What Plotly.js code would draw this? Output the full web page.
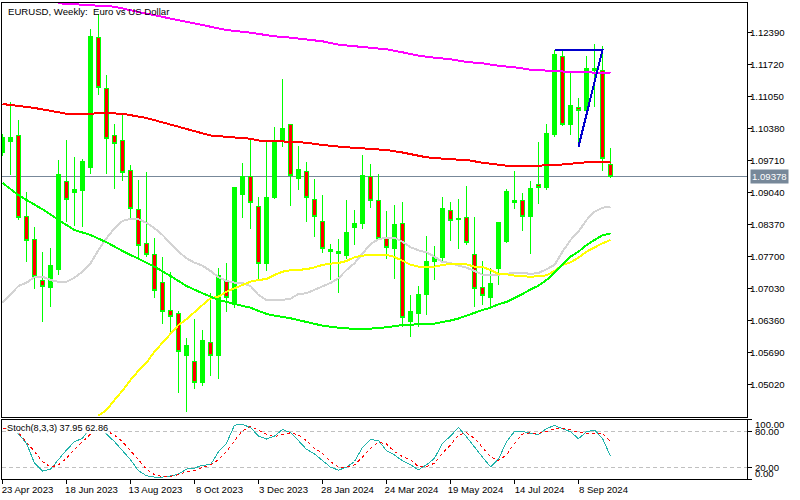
<!DOCTYPE html>
<html>
<head>
<meta charset="utf-8">
<script src="https://cdn.plot.ly/plotly-3.0.1.min.js"></script>
<style>
html,body{margin:0;padding:0;background:#fff}#c{width:800px;height:500px}
#c .scatterlayer path.js-line, #c .boxlayer path, #c .shapelayer path {shape-rendering:crispEdges !important}
</style>
</head>
<body>
<div id="c"></div>
<script>
const open_ = [1.09872,1.10102,1.10248,1.08532,1.08050,1.07192,1.07045,1.07422,1.09285,1.09034,1.09076,1.09578,1.12300,1.11232,1.10248,1.10123,1.09495,1.08678,1.07966,1.07736,1.07150,1.06584,1.06501,1.05621,1.05496,1.05056,1.05914,1.05621,1.07212,1.06731,1.08992,1.09369,1.08741,1.07568,1.08950,1.10123,1.10458,1.09327,1.09474,1.08908,1.08427,1.07799,1.07757,1.07715,1.08301,1.08385,1.09369,1.08887,1.08071,1.07862,1.08385,1.06333,1.06501,1.06919,1.07610,1.07673,1.08657,1.08469,1.08511,1.07736,1.07045,1.06836,1.07443,1.08008,1.08825,1.08887,1.08552,1.09222,1.09139,1.10269,1.11902,1.10458,1.10814,1.10751,1.11609,1.11609,1.09641];
const high = [1.10269,1.10939,1.10562,1.09055,1.08322,1.07799,1.07882,1.09725,1.10144,1.09788,1.09746,1.12468,1.12782,1.11505,1.10479,1.10667,1.09620,1.09306,1.09474,1.08092,1.07694,1.07380,1.06563,1.05998,1.06396,1.06166,1.06940,1.07464,1.07568,1.09160,1.09662,1.10144,1.08950,1.10102,1.10416,1.11421,1.10458,1.10018,1.09683,1.09327,1.08992,1.07966,1.08071,1.08887,1.08678,1.09830,1.09641,1.09432,1.08657,1.08783,1.08846,1.06898,1.07087,1.08134,1.07924,1.08950,1.08846,1.08908,1.09181,1.08532,1.07610,1.07464,1.08427,1.09118,1.09495,1.09034,1.09285,1.10102,1.10479,1.12028,1.12007,1.11567,1.11023,1.11902,1.12154,1.12112,1.09976];
const low = [1.09809,1.09411,1.08469,1.07589,1.07024,1.06333,1.06647,1.07317,1.08427,1.08343,1.08322,1.09432,1.11086,1.09432,1.09118,1.09285,1.08490,1.07652,1.07694,1.06836,1.06291,1.06124,1.04847,1.04449,1.04930,1.04993,1.05202,1.05140,1.06542,1.06626,1.08511,1.08280,1.07233,1.07401,1.08908,1.09997,1.08762,1.09097,1.08427,1.08113,1.07778,1.07212,1.06940,1.07652,1.07945,1.08280,1.08720,1.08050,1.07652,1.07233,1.06228,1.06019,1.06228,1.06480,1.07212,1.07568,1.08029,1.07862,1.07945,1.06647,1.06689,1.06647,1.07108,1.07987,1.08699,1.08238,1.07757,1.08804,1.09097,1.10207,1.10437,1.10248,1.10039,1.10730,1.10835,1.09495,1.09348];
const close_ = [1.10186,1.10186,1.08511,1.08029,1.07275,1.07066,1.07506,1.09411,1.08908,1.09097,1.09683,1.12321,1.11253,1.10165,1.10060,1.09453,1.08699,1.07945,1.07736,1.06982,1.06563,1.06438,1.05705,1.05851,1.05056,1.05935,1.05621,1.07296,1.06836,1.09139,1.09369,1.08825,1.07568,1.08950,1.10102,1.10374,1.09390,1.09516,1.08950,1.08532,1.07862,1.07841,1.07799,1.08197,1.08385,1.09390,1.08867,1.08071,1.07903,1.08364,1.06417,1.06563,1.06919,1.07610,1.07673,1.08699,1.08448,1.08490,1.07987,1.07024,1.06898,1.07129,1.08406,1.09055,1.08867,1.08552,1.09118,1.09139,1.10290,1.11944,1.10458,1.10856,1.10751,1.11651,1.11651,1.09746,1.09378];

const redBars = [0,4,8,11,12,15,18,22,26,29,31,32,34,38,40,43,46,48,50,53,56,58,60,63,67,70,73,76];
const redMA = [1.10897,1.10814,1.10694,1.10688,1.10709,1.10694,1.10604,1.10426,1.10238,1.10196,1.10171,1.10133,1.10123,1.10087,1.10039,1.09991,1.09966,1.09934,1.09882,1.09781,1.09740,1.09725,1.09668,1.09606,1.09606,1.09631,1.09677,1.09689];

const magentaBars = [7,10,14,17,19,21,23,25,28,31,33,34,36,38,40,42,44,46,48,50,52,54,56,58,60,62,64,66,68,71,76];
const magentaMA = [1.13006,1.12977,1.12935,1.12824,1.12755,1.12702,1.12629,1.12552,1.12447,1.12390,1.12342,1.12315,1.12286,1.12244,1.12210,1.12139,1.12106,1.12085,1.12043,1.11980,1.11909,1.11867,1.11833,1.11777,1.11750,1.11697,1.11666,1.11616,1.11595,1.11568,1.11547];

const limeBars = [0,2,3,5,7,9,11,13,15,17,19,21,23,25,27,29,31,33,34,36,38,40,42,44,46,48,50,52,54,56,57,58,59,60,61,62,63,64,65,66,67,68,69,70,71,72,73,74,75,76];
const limeMA = [1.09243,1.08992,1.08887,1.08693,1.08469,1.08259,1.08155,1.08002,1.07820,1.07652,1.07491,1.07296,1.07087,1.06934,1.06794,1.06710,1.06632,1.06501,1.06465,1.06411,1.06339,1.06256,1.06214,1.06187,1.06193,1.06222,1.06270,1.06285,1.06298,1.06364,1.06406,1.06465,1.06528,1.06584,1.06632,1.06704,1.06752,1.06829,1.06919,1.07014,1.07093,1.07212,1.07365,1.07541,1.07700,1.07805,1.07945,1.08050,1.08148,1.08190];

const grayBars = [0,2,3,4,5,6,7,8,9,10,11,12,13,14,15,16,17,18,19,20,21,22,23,24,25,26,27,28,29,30,31,32,33,34,35,36,37,38,39,40,41,42,43,44,45,46,47,48,49,50,51,52,53,54,55,56,57,58,59,60,61,62,63,64,65,66,67,68,69,70,71,72,73,74,75,76];
const grayMA = [1.06737,1.07087,1.07156,1.07269,1.07282,1.07212,1.07171,1.07177,1.07261,1.07386,1.07562,1.07841,1.08086,1.08295,1.08448,1.08490,1.08483,1.08412,1.08295,1.08155,1.07981,1.07805,1.07667,1.07575,1.07512,1.07401,1.07269,1.07192,1.07156,1.07150,1.07087,1.06898,1.06794,1.06794,1.06794,1.06821,1.06919,1.06934,1.07003,1.07087,1.07150,1.07248,1.07422,1.07562,1.07772,1.07966,1.08065,1.08098,1.08098,1.08014,1.07897,1.07834,1.07792,1.07700,1.07589,1.07568,1.07516,1.07470,1.07401,1.07323,1.07311,1.07323,1.07338,1.07365,1.07365,1.07338,1.07359,1.07437,1.07527,1.07805,1.08050,1.08224,1.08469,1.08643,1.08726,1.08747];

const yellowBars = [12,13,14,15,16,17,18,19,20,21,22,23,24,25,26,27,28,29,30,31,32,33,34,35,36,37,38,39,40,41,42,43,44,45,46,47,48,49,50,51,52,53,54,55,56,57,58,59,60,61,62,63,64,65,66,67,68,69,70,71,72,73,74,75,76];
const yellowMA = [1.04371,1.04491,1.04700,1.04895,1.05119,1.05313,1.05481,1.05711,1.05900,1.06097,1.06270,1.06390,1.06549,1.06689,1.06829,1.06863,1.06968,1.07039,1.07108,1.07177,1.07212,1.07233,1.07317,1.07386,1.07416,1.07422,1.07437,1.07478,1.07527,1.07554,1.07568,1.07610,1.07688,1.07721,1.07742,1.07742,1.07736,1.07694,1.07617,1.07533,1.07491,1.07491,1.07491,1.07527,1.07547,1.07547,1.07541,1.07491,1.07485,1.07422,1.07338,1.07332,1.07303,1.07290,1.07282,1.07290,1.07311,1.07401,1.07527,1.07583,1.07679,1.07805,1.07897,1.07981,1.08050];

const trendBars = [69,75,72];
const trendPrices = [1.12028,1.12028,1.10003];

const stochK = [85,85,75.5,60,26.6,13.3,16.6,33.3,48.8,62.7,68.3,86.6,87.7,75.5,62.7,47.7,32.2,13.8,5.5,3.3,3.3,5,8.3,16.6,18.3,23.3,23.8,46,60,90.5,91.6,86.6,72.2,67.2,72.2,83.3,77.7,64.4,49.9,42.2,31,19.9,14.9,19.9,29.4,53.3,66.6,64.4,47.7,40.5,30.5,23.8,15.5,23.8,34.9,60,72.2,86.6,71,53.3,36.6,20.5,33.3,62.7,79.9,79.9,76.6,74.9,84.9,89.9,84.9,79.4,67.7,79.4,82.2,68.3,37.95];
const stochD = [85,85,78,62.7,46,29.4,19.9,23.8,34.9,49.9,62.7,75.5,83.3,81,73.8,62.7,47.7,32.2,16.6,7.2,3.8,4.4,7.2,12.7,14.4,19.4,23.8,32.2,46,64.4,81,88.8,82.2,75.5,71.1,73.8,77.7,73.8,64.4,51.6,43.3,29.4,19.9,19.9,23.8,36.6,51.6,61.6,58.8,46,37.7,32.2,21,21,26.6,43.3,57.2,73.8,77.7,68.3,53.3,37.7,31,40.5,60,75.5,77.7,76.6,79.9,84.4,85.5,83.3,77.7,76.6,76.6,76.6,62.86];

const lastPrice = 1.09378;
const stochLevels = [20, 80];
const priceTicks = [1.12390,1.11720,1.11050,1.10380,1.09710,1.09040,1.08370,1.07700,1.07030,1.06360,1.05690,1.05020];
const stochTicks = [0,20,80,100];
const dateTickBars = [0,8,16,24,32,40,48,56,64,72];
const dateTickLabels = ['23 Apr 2023','18 Jun 2023','13 Aug 2023','8 Oct 2023','3 Dec 2023','28 Jan 2024','24 Mar 2024','19 May 2024','14 Jul 2024','8 Sep 2024'];
const chartTitle = 'EURUSD, Weekly:  Euro vs US Dollar';
const stochLabel = 'Stoch(8,3,3) 37.95 62.86';

const bars = open_.map((_, i) => i);
const FONT = 'Liberation Sans, Arial, sans-serif';
const FS = 9.6;
const line = (x, y, color, width, extra) => ({type:'scatter', mode:'lines', x, y, xaxis:'x', yaxis:'y', hoverinfo:'skip', showlegend:false, line:Object.assign({color, width}, extra||{})});

const traces = [
  {type:'candlestick', x:bars, open:open_, high, low, close:close_, xaxis:'x', yaxis:'y', showlegend:false, whiskerwidth:0,
   increasing:{line:{color:'#00ff00',width:1}, fillcolor:'#00ff00'},
   decreasing:{line:{color:'#00ff00',width:1}, fillcolor:'#ff0000'}},
  line(grayBars, grayMA, '#d3d3d3', 2),
  line(yellowBars, yellowMA, '#ffff00', 2),
  line(limeBars, limeMA, '#00ff00', 2),
  line(redBars, redMA, '#ff0000', 2),
  line(magentaBars, magentaMA, '#ff00ff', 2),
  line(trendBars, trendPrices, '#0000cc', 2),
  {type:'scatter', mode:'lines', x:bars, y:stochK, xaxis:'x2', yaxis:'y2', showlegend:false, hoverinfo:'skip', line:{color:'#20b2aa', width:1}},
  {type:'scatter', mode:'lines', x:bars, y:stochD, xaxis:'x2', yaxis:'y2', showlegend:false, hoverinfo:'skip', line:{color:'#ff0000', width:1, dash:'3px,3px'}}
];

const shapes = [
  {type:'line', xref:'paper', x0:0, x1:1, yref:'y', y0:lastPrice, y1:lastPrice, layer:'below', line:{color:'#778899', width:1}}
].concat(stochLevels.map(v => ({type:'line', xref:'paper', x0:0, x1:1, yref:'y2', y0:v, y1:v, layer:'below', line:{color:'#c0c0c0', width:1, dash:'4px,3px'}})));

const annotations = [
  {xref:'paper', yref:'paper', x:0.006, y:1.0, yshift:-1, xanchor:'left', yanchor:'top', text:chartTitle, showarrow:false, font:{family:FONT, size:9.6, color:'#000'}},
  {xref:'paper', yref:'y2', x:0.005, y:86, xanchor:'left', yanchor:'middle', text:stochLabel, showarrow:false, bgcolor:'#fff', borderpad:0, font:{family:FONT, size:9.2, color:'#000'}},
  {xref:'paper', yref:'y', x:1.0, xshift:3, y:lastPrice, xanchor:'left', yanchor:'middle', text:'1.09378', showarrow:false, bgcolor:'#778899', borderpad:1, font:{family:FONT, size:FS, color:'#fff'}},
  {xref:'paper', yref:'y2', x:1.0, xshift:6, y:92, xanchor:'left', yanchor:'middle', text:'100.00', showarrow:false, font:{family:FONT, size:FS, color:'#000'}},
  {xref:'paper', yref:'y2', x:1.0, xshift:6, y:80, xanchor:'left', yanchor:'middle', text:'80.00', showarrow:false, font:{family:FONT, size:FS, color:'#000'}},
  {xref:'paper', yref:'y2', x:1.0, xshift:6, y:20, xanchor:'left', yanchor:'middle', text:'20.00', showarrow:false, font:{family:FONT, size:FS, color:'#000'}},
  {xref:'paper', yref:'y2', x:1.0, xshift:6, y:10, xanchor:'left', yanchor:'middle', text:'0.00', showarrow:false, font:{family:FONT, size:FS, color:'#000'}}
];

const xRange = [-0.0625, 93.0625];
const layout = {
  width:800, height:500, showlegend:false, hovermode:false, dragmode:false,
  paper_bgcolor:'#fff', plot_bgcolor:'#fff',
  margin:{l:2, r:53, t:3, b:21, pad:0},
  boxgap:0.5, boxgroupgap:0,
  font:{family:FONT, size:FS, color:'#000'},
  xaxis:{domain:[0,1], range:xRange, anchor:'y', rangeslider:{visible:false}, showticklabels:false, ticks:'', showgrid:false, zeroline:false, showline:true, linecolor:'#000', linewidth:1, mirror:true},
  yaxis:{domain:[0.1303,1], range:[1.04344,1.13012], anchor:'x', side:'right', tickvals:priceTicks, tickformat:'.5f', ticks:'outside', ticklen:4, tickcolor:'#000', tickwidth:1, ticklabelstandoff:-4, showgrid:false, zeroline:false, showline:true, linecolor:'#000', linewidth:1, mirror:true, tickfont:{family:FONT, size:FS, color:'#000'}},
  xaxis2:{domain:[0,1], range:xRange, anchor:'y2', tickvals:dateTickBars, ticktext:dateTickLabels, tickmode:'array', ticks:'outside', ticklen:4, tickcolor:'#000', ticklabelshift:25, ticklabelstandoff:-3, showgrid:false, zeroline:false, showline:true, linecolor:'#000', linewidth:1, mirror:true, tickangle:0, tickfont:{family:FONT, size:FS, color:'#000'}},
  yaxis2:{domain:[0,0.125], range:[0,100], anchor:'x2', side:'right', tickvals:stochTicks, showticklabels:false, ticks:'outside', ticklen:4, tickcolor:'#000', showgrid:false, zeroline:false, showline:true, linecolor:'#000', linewidth:1, mirror:true},
  shapes, annotations
};
Plotly.newPlot('c', traces, layout, {displayModeBar:false, staticPlot:true});
</script>
</body>
</html>
